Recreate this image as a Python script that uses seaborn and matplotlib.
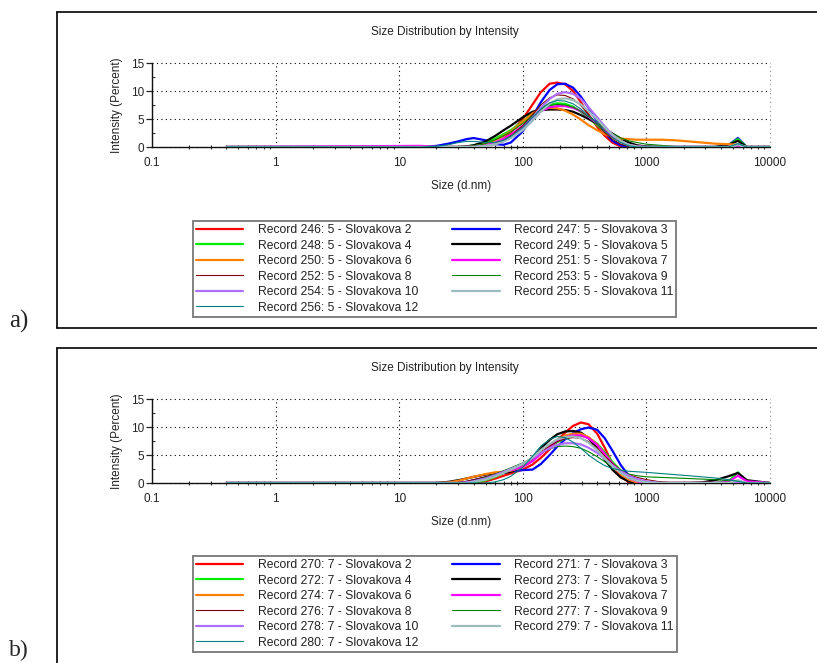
import matplotlib
matplotlib.use("Agg")
import matplotlib.pyplot as plt
import numpy as np
import pandas as pd
import seaborn as sns
from matplotlib.lines import Line2D
from matplotlib.ticker import MultipleLocator, LogLocator, NullFormatter

# ---------------- data ----------------
sizes_nm = [0.4, 15, 20, 25, 30, 35, 40, 50, 60, 70, 80, 100, 120, 140, 165, 190,
            220, 255, 295, 340, 400, 460, 530, 620, 720, 840, 1000, 1300, 1700,
            2200, 2800, 3600, 4600, 5500, 6500, 10000]

labels_a = ["Record 246: 5 - Slovakova 2", "Record 247: 5 - Slovakova 3",
            "Record 248: 5 - Slovakova 4", "Record 249: 5 - Slovakova 5",
            "Record 250: 5 - Slovakova 6", "Record 251: 5 - Slovakova 7",
            "Record 252: 5 - Slovakova 8", "Record 253: 5 - Slovakova 9",
            "Record 254: 5 - Slovakova 10", "Record 255: 5 - Slovakova 11",
            "Record 256: 5 - Slovakova 12"]
labels_b = ["Record 270: 7 - Slovakova 2", "Record 271: 7 - Slovakova 3",
            "Record 272: 7 - Slovakova 4", "Record 273: 7 - Slovakova 5",
            "Record 274: 7 - Slovakova 6", "Record 275: 7 - Slovakova 7",
            "Record 276: 7 - Slovakova 8", "Record 277: 7 - Slovakova 9",
            "Record 278: 7 - Slovakova 10", "Record 279: 7 - Slovakova 11",
            "Record 280: 7 - Slovakova 12"]

# panel a) intensity (%)
a_246 = [0,0,0,0,0,0,0,0.2,0.7,1.5,2.6,5.0,7.6,9.8,11.3,11.5,11.2,10.0,8.0,5.8,3.6,2.0,0.8,0.1,0,0,0,0,0,0,0,0,0,0,0,0]
a_247 = [0,0,0.2,0.6,1.0,1.4,1.6,1.2,0.5,0.4,0.8,2.8,5.5,8.0,10.2,11.2,11.3,10.6,9.0,7.0,4.5,2.6,1.1,0.3,0,0,0,0,0,0,0,0,0.3,1.6,0,0]
a_248 = [0,0,0,0,0,0.1,0.3,0.8,1.5,2.3,3.0,4.6,6.0,7.0,7.6,7.8,7.7,7.2,6.3,5.2,3.9,2.8,1.8,0.9,0.4,0.1,0,0,0,0,0,0,0.3,1.4,0,0]
a_249 = [0,0,0,0,0,0.1,0.3,1.0,2.0,3.0,3.8,5.3,6.3,6.6,6.7,6.7,6.6,6.3,5.7,5.0,4.2,3.3,2.4,1.5,0.8,0.3,0.1,0,0,0,0,0,0.4,1.1,0,0]
a_250 = [0,0,0,0,0,0,0.1,0.5,1.2,2.0,2.8,4.5,6.0,6.8,7.0,6.9,6.5,5.8,4.9,3.9,3.0,2.3,1.8,1.5,1.4,1.3,1.3,1.3,1.2,1.0,0.8,0.6,0.5,0.4,0,0]
a_251 = [0,0.2,0,0,0,0,0.1,0.3,0.8,1.5,2.2,3.8,5.3,6.4,7.1,7.3,7.3,7.0,6.4,5.4,4.2,3.0,1.9,1.0,0.4,0.1,0,0,0,0,0,0,0,0.3,0,0]
a_252 = [0,0,0,0,0,0,0,0.2,0.6,1.2,2.0,3.8,5.8,7.5,8.8,9.3,9.2,8.6,7.4,5.8,4.1,2.6,1.4,0.5,0.1,0,0,0,0,0,0,0,0,0.2,0,0]
a_253 = [0,0,0,0,0,0.1,0.2,0.6,1.3,2.0,2.7,4.2,5.6,6.7,7.4,7.6,7.5,7.1,6.4,5.4,4.3,3.3,2.4,1.6,1.1,0.8,0.5,0.3,0.1,0,0,0,0,0.5,0,0]
a_254 = [0,0,0,0,0,0,0,0.2,0.5,1.0,1.7,3.3,5.2,7.0,8.6,9.5,9.8,9.5,8.6,7.1,5.3,3.7,2.2,1.0,0.3,0,0,0,0,0,0,0,0,0.3,0,0]
a_255 = [0,0,0,0,0,0,0,0.2,0.5,1.0,1.6,3.0,4.7,6.3,7.7,8.5,8.7,8.4,7.6,6.4,4.9,3.5,2.2,1.1,0.4,0.1,0,0,0,0,0,0,0,0.5,0,0]
a_256 = [0,0,0.1,0.4,0.8,1.0,1.0,0.8,0.8,1.2,1.9,3.5,5.3,6.8,7.9,8.3,8.2,7.7,6.8,5.6,4.2,2.9,1.7,0.8,0.2,0,0,0,0,0,0,0,0,0.6,0,0]

# panel b) intensity (%)
b_270 = [0,0,0,0,0,0,0,0.3,0.8,1.3,1.7,2.4,3.3,4.5,6.0,7.6,9.0,10.2,10.8,10.5,8.8,6.3,3.5,1.1,0.2,0,0,0,0,0,0,0,0,0,0,0]
b_271 = [0,0,0,0,0,0.2,0.5,1.0,1.4,1.8,2.1,2.3,2.4,3.4,5.0,6.5,7.8,8.9,9.6,9.9,9.5,8.0,5.8,3.2,1.3,0.4,0,0,0,0,0,0,0,0,0,0]
b_272 = [0,0,0,0,0,0,0.1,0.5,1.1,1.8,2.5,3.4,4.4,5.4,6.4,7.3,8.0,8.4,8.5,8.1,7.0,5.5,3.8,2.2,1.0,0.3,0,0,0,0,0,0,0.3,1.9,0.3,0]
b_273 = [0,0,0,0.2,0.5,0.8,1.1,1.5,1.8,1.8,2.0,3.0,4.5,6.2,7.7,8.7,9.2,9.3,9.0,8.0,6.2,4.2,2.4,1.0,0.3,0,0,0,0,0,0.1,0.5,1.2,1.8,0.5,0]
b_274 = [0,0,0,0.1,0.4,0.8,1.1,1.6,1.9,2.0,2.2,2.9,4.0,5.3,6.6,7.7,8.5,8.8,8.8,8.2,6.9,5.1,3.2,1.6,0.6,0.1,0,0,0,0,0,0,0,0.2,0,0]
b_275 = [0,0,0,0,0,0.1,0.3,0.9,1.5,2.0,2.3,2.9,3.9,5.2,6.5,7.5,8.2,8.5,8.5,8.0,6.8,5.2,3.5,2.0,0.9,0.3,0,0,0,0,0,0,0.2,1.3,0.3,0]
b_276 = [0,0,0,0,0.1,0.3,0.6,1.1,1.6,2.1,2.5,3.3,4.3,5.5,6.6,7.4,7.9,8.1,8.0,7.4,6.2,4.8,3.5,2.3,1.5,1.0,0.6,0.2,0,0,0,0,0,0,0,0]
b_277 = [0,0,0,0,0,0.1,0.4,1.0,1.6,2.2,2.7,3.6,4.5,5.4,6.1,6.5,6.6,6.5,6.2,5.6,4.7,3.8,2.9,2.1,1.6,1.3,1.1,1.0,0.9,0.8,0.7,0.6,0.4,0.2,0,0]
b_278 = [0,0,0,0,0,0.1,0.3,0.8,1.4,2.0,2.5,3.4,4.4,5.4,6.2,6.8,7.1,7.1,6.9,6.3,5.4,4.3,3.2,2.1,1.3,0.7,0.3,0,0,0,0,0,0,0,0,0]
b_279 = [0,0,0,0,0,0,0.2,0.6,1.2,1.8,2.4,3.4,4.6,5.9,7.0,7.8,8.2,8.3,8.0,7.2,5.9,4.4,3.0,1.8,0.9,0.4,0.1,0,0,0,0,0,0,0.5,0,0]
b_280 = [0,0,0,0,0,0,0,0,0.2,0.6,1.2,2.8,4.8,6.6,7.8,8.3,8.1,7.3,6.2,5.0,3.9,3.1,2.6,2.3,2.1,2.0,1.9,1.7,1.5,1.3,1.1,0.9,0.6,0.3,0,0]

series_a = [a_246, a_247, a_248, a_249, a_250, a_251, a_252, a_253, a_254, a_255, a_256]
series_b = [b_270, b_271, b_272, b_273, b_274, b_275, b_276, b_277, b_278, b_279, b_280]

x_ticks = [0.1, 1, 10, 100, 1000, 10000]
x_tick_labels = ["0.1", "1", "10", "100", "1000", "10000"]
y_ticks = [0, 5, 10, 15]
y_tick_labels = ["0", "5", "10", "15"]

# ---------------- styles ----------------
line_colors = ["#FF0000", "#0000FF", "#00EE00", "#000000", "#FF8000", "#FF00FF",
               "#800000", "#008000", "#B070FF", "#9CBCBC", "#008080"]
line_widths = [1.6, 1.6, 1.6, 1.6, 1.6, 1.6, 0.8, 0.8, 1.6, 1.6, 0.8]

sns.set_theme(style="white")
plt.rcParams["font.family"] = ["Liberation Sans", "DejaVu Sans"]

W, H = 817, 663
fig = plt.figure(figsize=(W / 100, H / 100), dpi=100)


def fx(px):
    return px / W


def fy(py):
    return 1 - py / H


def draw_panel(ax_top_px, series, labels, title_y_px, legend_top_px):
    ax = fig.add_axes([fx(152), fy(ax_top_px + 84), fx(618), 84 / H])
    frames = []
    for lab, vals in zip(labels, series):
        frames.append(pd.DataFrame({"size": sizes_nm, "intensity": vals, "record": lab}))
    df = pd.concat(frames, ignore_index=True)
    handles = []
    for i, lab in enumerate(labels):
        sub = df[df["record"] == lab]
        sns.lineplot(data=sub, x="size", y="intensity", ax=ax, color=line_colors[i],
                     linewidth=line_widths[i], sort=False, estimator=None,
                     legend=False, zorder=3)
        handles.append(Line2D([], [], color=line_colors[i], linewidth=line_widths[i]))
    ax.set_xscale("log")
    ax.set_xlim(0.1, 10000)
    ax.set_ylim(0, 15)
    ax.set_xticks(x_ticks, x_tick_labels)
    ax.set_yticks(y_ticks, y_tick_labels)
    ax.xaxis.set_minor_locator(LogLocator(base=10, subs=np.arange(2, 10)))
    ax.xaxis.set_minor_formatter(NullFormatter())
    ax.yaxis.set_minor_locator(MultipleLocator(2.5))
    ax.tick_params(axis="x", which="major", length=0, pad=7, labelsize=8.5, colors="#222222")
    ax.tick_params(axis="x", which="minor", length=3, direction="inout", color="#333333",
                   width=0.8, bottom=True)
    ax.tick_params(axis="y", which="major", length=4, direction="out", pad=1.5,
                   labelsize=8.5, left=True, color="#222222", width=0.9)
    ax.tick_params(axis="y", which="minor", length=2.5, direction="in", left=True,
                   color="#333333", width=0.8)
    for s in ["top", "right"]:
        ax.spines[s].set_visible(False)
    for s in ["left", "bottom"]:
        ax.spines[s].set_color("#111111")
        ax.spines[s].set_linewidth(1.0)
    ax.grid(True, which="major", color="#000000", linestyle=(0, (1, 3)), linewidth=0.8)
    ax.get_xgridlines()[-1].set_color("#909090")
    ax.set_axisbelow(True)
    for gl in ax.get_xgridlines() + ax.get_ygridlines():
        gl.set_clip_on(False)
    ax.set_xlabel("Size (d.nm)", fontsize=8.5, color="#222222")
    ax.xaxis.set_label_coords(0.5, -0.46)
    ax.xaxis.label.set_va("center")
    ax.set_ylabel("Intensity (Percent)", fontsize=8.5, color="#222222")
    ax.yaxis.set_label_coords(-35 / 618, 0.5)
    ax.yaxis.label.set_va("center")
    fig.text(fx(445), fy(title_y_px), "Size Distribution by Intensity", fontsize=8.5,
             ha="center", va="center", color="#222222")
    order = [0, 2, 4, 6, 8, 10, 1, 3, 5, 7, 9]
    leg = fig.legend([handles[k] for k in order], [labels[k] for k in order],
                     loc="upper left", bbox_to_anchor=(fx(193), fy(legend_top_px)),
                     bbox_transform=fig.transFigure, ncol=2, fontsize=8.7,
                     frameon=True, fancybox=False, edgecolor="#555555",
                     handlelength=3.9, handletextpad=1.2, columnspacing=2.85,
                     labelspacing=0.29, borderpad=0.25, borderaxespad=0)
    leg.get_frame().set_linewidth(1.3)
    for t in leg.get_texts():
        t.set_color("#222222")
    return ax


ax_a = draw_panel(63, series_a, labels_a, 32, 221)
ax_b = draw_panel(399, series_b, labels_b, 368, 556)

# outer frames around each panel
frame_kw = dict(color="#000000", linewidth=1.2, transform=fig.transFigure)
fig.add_artist(Line2D([fx(57), 1.0], [fy(12), fy(12)], **frame_kw))
fig.add_artist(Line2D([fx(57), fx(57)], [fy(12), fy(328)], **frame_kw))
fig.add_artist(Line2D([fx(57), 1.0], [fy(328), fy(328)], **frame_kw))
fig.add_artist(Line2D([fx(57), 1.0], [fy(348), fy(348)], **frame_kw))
fig.add_artist(Line2D([fx(57), fx(57)], [fy(348), 0.0], **frame_kw))

fig.text(fx(9), fy(321), "a)", fontsize=18, family=["Liberation Serif", "DejaVu Serif"],
         ha="left", va="center")
fig.text(fx(9), fy(661), "b)", fontsize=17, family=["Liberation Serif", "DejaVu Serif"],
         ha="left", va="bottom")

fig.savefig("out.png", dpi=100)
